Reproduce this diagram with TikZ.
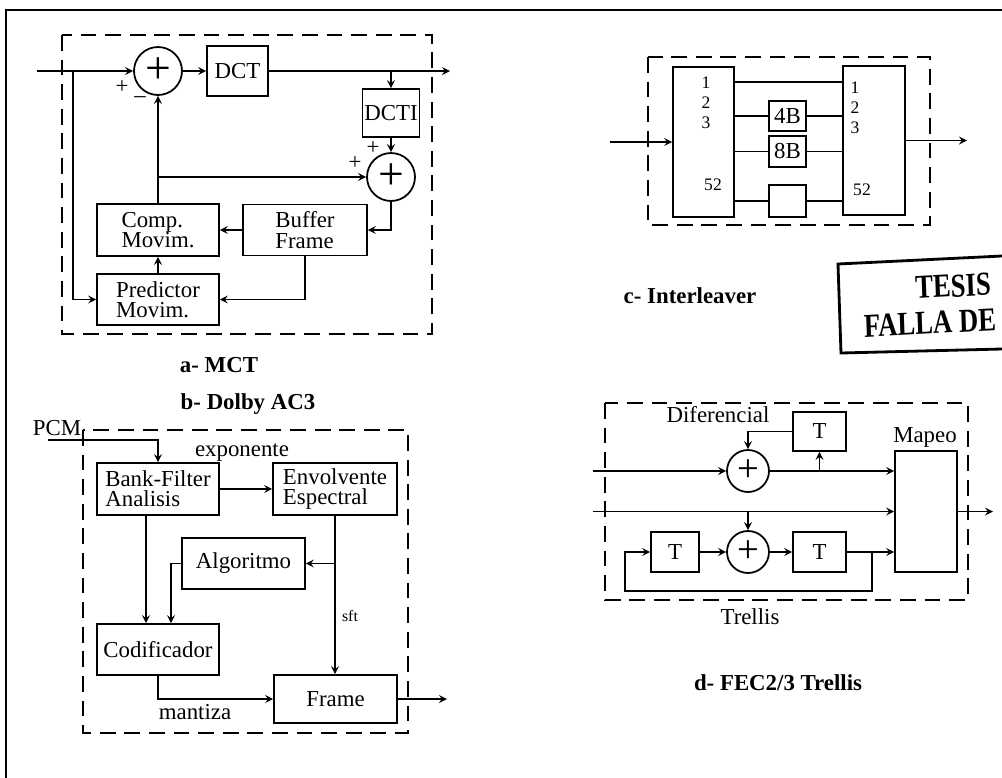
\documentclass[tikz,border=0pt]{standalone}
\usepackage{fontspec}
\setmainfont{Liberation Serif}
\usetikzlibrary{shapes.geometric, arrows, positioning}
\newcommand{\boxfont}{\fontsize{13}{11.5}\selectfont}

\begin{document}
\begin{tikzpicture}[x=0.02cm, y=-0.02cm, >=stealth,
    blk/.style={draw, line width=0.9pt, inner sep=2pt, align=left, font=\boxfont},
    sumnode/.style={circle, draw, line width=1pt, minimum size=0.96cm, inner sep=0pt, font=\fontsize{26}{26}\selectfont},
    dashbox/.style={line width=1.3pt, dash pattern=on 9pt off 5pt},
    conn/.style={->, line width=1pt},
    lbl/.style={font=\boxfont},
    nums/.style={font=\fontsize{10}{11.4}\selectfont, align=center, inner sep=0pt},
    ttl/.style={font=\boxfont\bfseries},
    stamp/.style={font=\fontsize{19}{19}\selectfont\bfseries, inner sep=0pt, xscale=0.8, rotate=2.5}]
    \useasboundingbox (0,0) rectangle (1002,778);
    \draw[line width=1.4pt] (1002,10) -- (6,10) -- (6,778);

    % a- MCT
    \draw[dashbox] (62,35) rectangle (432,334);
    \node[sumnode] (sumA) at (158,71) {+};
    \node[blk, minimum width=1.22cm, minimum height=1cm] (dct) at (237.5,71) {DCT};
    \node[blk, minimum width=1.14cm, minimum height=0.96cm, inner sep=1pt] (dcti) at (391,113) {DCTI};
    \node[sumnode] (sumB) at (391,177) {+};
    \node[blk, minimum width=2.44cm, minimum height=1.04cm] (comp) at (158,230) {Comp.\\Movim.};
    \node[blk, minimum width=2.48cm, minimum height=1.02cm] (buffer) at (305,230) {Buffer\\Frame};
    \node[blk, minimum width=2.44cm, minimum height=1.02cm] (pred) at (158,299.5) {Predictor\\Movim.};
    \coordinate (inA) at (37,71);
    \coordinate (brA) at (73,71);
    \coordinate (outA) at (450,71);
    \draw[conn] (inA) -- (sumA);
    \draw[conn] (brA) |- (pred.west);
    \draw[conn] (sumA) -- (dct);
    \draw[conn] (dct) -- (outA);
    \draw[conn] (dcti.north |- outA) -- (dcti.north);
    \draw[conn] (dcti) -- (sumB);
    \draw[conn] (comp) -- (sumA);
    \draw[conn] (comp.north |- sumB) -- (sumB);
    \draw[conn] (sumB.south) |- (buffer.east);
    \draw[conn] (buffer) -- (comp);
    \draw[conn] (buffer.south) |- (pred.east);
    \draw[conn] (pred) -- (comp);
    \node[lbl] at (122,87) {+};
    \node[lbl] at (140,100) {--};
    \node[lbl] at (373,148) {+};
    \node[lbl] at (355,163) {+};
    \node[ttl] (titleA) at (219,365) {a- MCT};

    % c- Interleaver
    \draw[dashbox] (648,57) rectangle (930,225);
    \node[blk, minimum width=1.22cm, minimum height=3cm] (leftblk) at (703.5,142) {};
    \node[blk, minimum width=1.24cm, minimum height=2.98cm] (rightblk) at (874,140.5) {};
    \node[blk, minimum width=0.74cm, minimum height=0.6cm, inner sep=1pt] (b4) at (787.5,116) {4B};
    \node[blk, minimum width=0.74cm, minimum height=0.62cm, inner sep=1pt] (b8) at (787.5,151.5) {8B};
    \node[blk, minimum width=0.74cm, minimum height=0.64cm] (bn) at (787.5,201) {};
    \node[nums] (numL) at (706,103) {1\\2\\3};
    \node[nums] (lastL) at (713,185) {52};
    \node[nums] (numR) at (855,108) {1\\2\\3};
    \node[nums] (lastR) at (862,190) {52};
    \coordinate (inC) at (610,142);
    \coordinate (outC) at (967,140.5);
    \draw[line width=1pt] (leftblk.east |- 0,82) -- (rightblk.west |- 0,82);
    \draw[line width=1pt] (leftblk.east |- b4) -- (b4.west);
    \draw[line width=1pt] (b4.east) -- (rightblk.west |- b4);
    \draw[line width=1pt] (leftblk.east |- b8) -- (b8.west);
    \draw[line width=1pt] (b8.east) -- (rightblk.west |- b8);
    \draw[line width=1pt] (leftblk.east |- bn) -- (bn.west);
    \draw[line width=1pt] (bn.east) -- (rightblk.west |- bn);
    \draw[conn] (inC) -- (leftblk.west |- inC);
    \draw[conn] (rightblk.east |- outC) -- (outC);
    \node[ttl] (titleC) at (690,296) {c- Interleaver};

    % stamp
    \draw[line width=1.6pt] (1002,256) -- (838,264) -- (841,353) -- (1002,349);
    \node[stamp] (tesis) at (953,286) {TESIS};
    \node[stamp] (falla) at (930,323) {FALLA DE};

    % b- Dolby AC3
    \node[ttl] (titleB) at (248,404) {b- Dolby AC3};
    \draw[dashbox] (83,430) rectangle (408,733);
    \node[lbl] (pcm) at (57,428) {PCM};
    \node[blk, minimum width=2.44cm, minimum height=1.04cm] (bank) at (158,489) {Bank-Filter\\Analisis};
    \node[blk, minimum width=2.48cm, minimum height=1.04cm] (env) at (335,489) {Envolvente\\Espectral};
    \node[blk, minimum width=2.46cm, minimum height=1.02cm] (alg) at (243.5,563.5) {Algoritmo};
    \node[blk, minimum width=2.44cm, minimum height=1.02cm] (cod) at (158,649.5) {Codificador};
    \node[blk, minimum width=2.46cm, minimum height=0.96cm] (frm) at (335.5,699) {Frame};
    \coordinate (pcmin) at (48,440);
    \coordinate (outB) at (447,699);
    \draw[conn] (pcmin) -| (bank.north);
    \draw[conn] (bank) -- (env);
    \draw[conn] ([xshift=-0.24cm]bank.south) -- ([xshift=-0.24cm]cod.north);
    \draw[conn] (alg.west) -| ([xshift=0.26cm]cod.north);
    \draw[conn] (env.south) -- (env.south |- frm.north);
    \draw[conn] (env.south |- alg.east) -- (alg.east);
    \draw[conn] (cod.south) |- (frm.west);
    \draw[conn] (frm) -- (outB);
    \node[lbl] at (242,452) {exponente};
    \node[font=\fontsize{9}{9}\selectfont] at (350,616) {sft};
    \node[lbl] at (195,712) {mantiza};

    % d- FEC2/3 Trellis
    \draw[dashbox] (605,403) rectangle (968,600);
    \node[sumnode, minimum size=0.84cm, font=\fontsize{22}{22}\selectfont] (sumC) at (748,471) {+};
    \node[sumnode, minimum size=0.84cm, font=\fontsize{22}{22}\selectfont] (sumD) at (748,552) {+};
    \node[blk, minimum width=1.06cm, minimum height=0.78cm] (tA) at (819.5,431.5) {T};
    \node[blk, minimum width=0.96cm, minimum height=0.8cm] (tB) at (675,552) {T};
    \node[blk, minimum width=1.06cm, minimum height=0.8cm] (tC) at (819.5,552) {T};
    \node[blk, minimum width=1.24cm, minimum height=2.42cm] (map) at (926,511.5) {};
    \coordinate (inD1) at (593,471);
    \coordinate (inD2) at (593,511.5);
    \coordinate (outD) at (993,511.5);
    \coordinate (fb) at (872,591);
    \draw[conn] (inD1) -- (sumC);
    \draw[conn] (sumC) -- (map.west |- sumC);
    \draw[conn] (tA.south |- sumC) -- (tA.south);
    \draw[conn] (tA.west) -| (sumC.north);
    \draw[conn] (inD2) -- (map.west);
    \draw[conn] (sumD.north |- inD2) -- (sumD.north);
    \draw[conn] (tB) -- (sumD);
    \draw[conn] (sumD) -- (tC);
    \draw[conn] (tC) -- (map.west |- tC);
    \draw[conn] (tC.east -| fb) -- (fb) -| ([xshift=-0.5cm]tB.west) -- (tB.west);
    \draw[conn] (map.east |- outD) -- (outD);
    \node[lbl] at (718,415) {Diferencial};
    \node[lbl] at (925,437) {Mapeo};
    \node[lbl] at (750,617) {Trellis};
    \node[ttl] (titleD) at (778,683) {d- FEC2/3 Trellis};
\end{tikzpicture}
\end{document}
